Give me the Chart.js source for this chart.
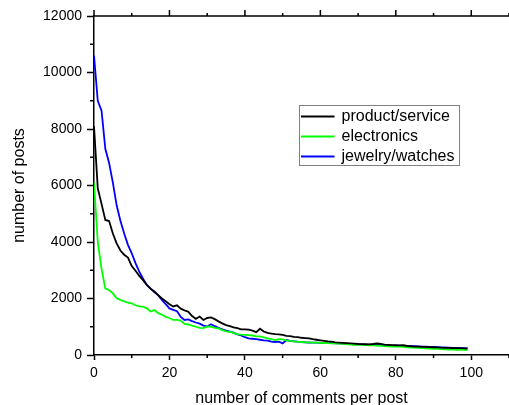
<!DOCTYPE html>
<html>
<head>
<meta charset="utf-8">
<script src="https://cdn.jsdelivr.net/npm/chart.js@4"></script>
<style>
  body { margin: 0; background: #fff; }
  #wrap { width: 509px; height: 405px; }
</style>
</head>
<body>
<div id="wrap"><canvas id="chart" width="509" height="405"></canvas></div>
<script>
    // comments per post, 0..99
    const commentCounts = Array.from({ length: 100 }, (_, i) => i);

    const productService = [
        8100, 5900, 5350, 4780, 4740, 4300, 3950, 3700, 3550, 3450,
        3150, 2980, 2800, 2650, 2480, 2350, 2230, 2120, 2000, 1900,
        1800, 1720, 1760, 1640, 1580, 1530, 1380, 1280, 1360, 1240,
        1310, 1330, 1270, 1190, 1120, 1060, 1020, 980, 950, 910,
        910, 900, 860, 810, 930, 830, 780, 760, 740, 730,
        710, 680, 670, 640, 630, 610, 600, 590, 560, 540,
        520, 500, 480, 470, 450, 440, 430, 420, 410, 400,
        390, 385, 380, 375, 390, 410, 390, 370, 360, 350,
        345, 340, 345, 320, 310, 300, 295, 290, 285, 280,
        275, 270, 260, 255, 250, 245, 240, 240, 235, 230
    ];

    const electronics = [
        6100, 4000, 3050, 2350, 2300, 2180, 2010, 1950, 1900, 1850,
        1830, 1760, 1720, 1710, 1650, 1540, 1590, 1480, 1430, 1350,
        1310, 1240, 1240, 1220, 1100, 1080, 1040, 1000, 960, 950,
        1010, 1000, 960, 940, 880, 840, 820, 780, 740, 720,
        710, 700, 690, 660, 660, 620, 590, 560, 530, 560,
        550, 520, 500, 485, 470, 460, 450, 445, 440, 435,
        430, 425, 420, 415, 410, 405, 395, 385, 370, 360,
        355, 360, 350, 345, 340, 335, 325, 315, 310, 300,
        300, 295, 285, 270, 260, 260, 250, 240, 235, 230,
        220, 215, 205, 200, 195, 190, 185, 185, 180, 175
    ];

    const jewelryWatches = [
        10600, 9000, 8650, 7300, 6800, 6100, 5300, 4750, 4300, 3900,
        3600, 3250, 2950, 2700, 2480, 2350, 2250, 2120, 1950, 1800,
        1650, 1600, 1550, 1350, 1240, 1260, 1200, 1150, 1110, 1040,
        1010, 1090, 1020, 960, 910, 860, 830, 790, 730, 690,
        630, 590, 575, 560, 540, 520, 510, 470, 460, 470,
        410, 530, 500, 485, 470, 460, 450, 440, 435, 435,
        430, 425, 420, 420, 415, 410, 400, 395, 390, 385,
        380, 375, 370, 365, 360, 355, 350, 345, 340, 335,
        335, 330, 325, 320, 315, 310, 305, 300, 295, 290,
        285, 280, 270, 265, 260, 255, 250, 245, 240, 235
    ];

    const seriesNames = ['product/service', 'electronics', 'jewelry/watches'];
    const seriesColors = ['#000000', '#00ff00', '#0000ff'];

    const xMajorTicks = [0, 20, 40, 60, 80, 100];
    const xMinorTicks = [10, 30, 50, 70, 90, 110];
    const yMinorTicks = [1000, 3000, 5000, 7000, 9000, 11000];

    const FONT = "'Liberation Sans', Arial, sans-serif";

    function toPoints(values) {
        return values.map((v, i) => ({ x: commentCounts[i], y: v }));
    }

    // minor ticks, top axis line and the boxed legend
    const framePlugin = {
        id: 'frame',
        afterDraw(chart) {
            const ctx = chart.ctx;
            const area = chart.chartArea;
            const xs = chart.scales.x;
            const ys = chart.scales.y;
            ctx.save();
            ctx.strokeStyle = '#000';
            ctx.lineWidth = 1.5;

            ctx.beginPath();
            ctx.moveTo(area.left, area.top);
            ctx.lineTo(area.right + 2, area.top);
            xMajorTicks.forEach(v => {
                const px = xs.getPixelForValue(v);
                ctx.moveTo(px, area.top);
                ctx.lineTo(px, area.top - 6);
            });
            xMinorTicks.forEach(v => {
                const px = xs.getPixelForValue(v);
                ctx.moveTo(px, area.top);
                ctx.lineTo(px, area.top - 3);
                ctx.moveTo(px, area.bottom);
                ctx.lineTo(px, area.bottom + 3);
            });
            yMinorTicks.forEach(v => {
                const py = ys.getPixelForValue(v);
                ctx.moveTo(area.left, py);
                ctx.lineTo(area.left - 4, py);
            });
            ctx.stroke();

            // legend
            const lx = 299.5, ly = 105.5, lw = 160, lh = 60;
            ctx.lineWidth = 1;
            ctx.strokeStyle = '#808080';
            ctx.strokeRect(lx, ly, lw, lh);
            ctx.font = '16px ' + FONT;
            ctx.textBaseline = 'middle';
            ctx.fillStyle = '#000';
            chart.data.datasets.forEach((ds, i) => {
                const ry = ly + 11 + i * 20;
                ctx.strokeStyle = ds.borderColor;
                ctx.lineWidth = 2;
                ctx.beginPath();
                ctx.moveTo(lx + 1.5, ry);
                ctx.lineTo(lx + 35, ry);
                ctx.stroke();
                ctx.fillText(ds.label, lx + 42, ry);
            });
            ctx.restore();
        }
    };

    new Chart(document.getElementById('chart').getContext('2d'), {
        type: 'line',
        data: {
            datasets: seriesNames.map((name, i) => ({
                label: name,
                data: toPoints([productService, electronics, jewelryWatches][i]),
                borderColor: seriesColors[i],
                backgroundColor: seriesColors[i],
                borderWidth: 1.8,
                pointRadius: 0,
                tension: 0,
                fill: false
            }))
        },
        options: {
            responsive: false,
            animation: false,
            layout: { padding: { top: 16, right: 0, left: 0, bottom: 0 } },
            plugins: {
                legend: { display: false },
                tooltip: { enabled: false }
            },
            scales: {
                x: {
                    type: 'linear',
                    min: 0,
                    max: 110,
                    afterFit: scale => { scale.height = 50; },
                    ticks: {
                        stepSize: 20,
                        includeBounds: false,
                        color: '#000',
                        padding: 5,
                        font: { family: FONT, size: 14 },
                        maxRotation: 0
                    },
                    grid: {
                        drawOnChartArea: false,
                        drawTicks: true,
                        tickLength: 5,
                        tickColor: '#000',
                        tickWidth: 1.5
                    },
                    border: { color: '#000', width: 1.5 },
                    title: {
                        display: true,
                        text: 'number of comments per post',
                        color: '#000',
                        font: { family: FONT, size: 16 },
                        padding: { top: 0, bottom: -3 }
                    }
                },
                y: {
                    min: 0,
                    max: 12000,
                    afterFit: scale => { scale.width = 94; },
                    ticks: {
                        stepSize: 2000,
                        color: '#000',
                        padding: 5,
                        font: { family: FONT, size: 14 },
                        callback: value => String(value)
                    },
                    grid: {
                        drawOnChartArea: false,
                        drawTicks: true,
                        tickLength: 7,
                        tickColor: '#000',
                        tickWidth: 1.5
                    },
                    border: { color: '#000', width: 1.5 },
                    title: {
                        display: true,
                        text: 'number of posts',
                        color: '#000',
                        font: { family: FONT, size: 16 },
                        padding: { top: 10, bottom: 0 }
                    }
                }
            }
        },
        plugins: [framePlugin]
    });
</script>
</body>
</html>
